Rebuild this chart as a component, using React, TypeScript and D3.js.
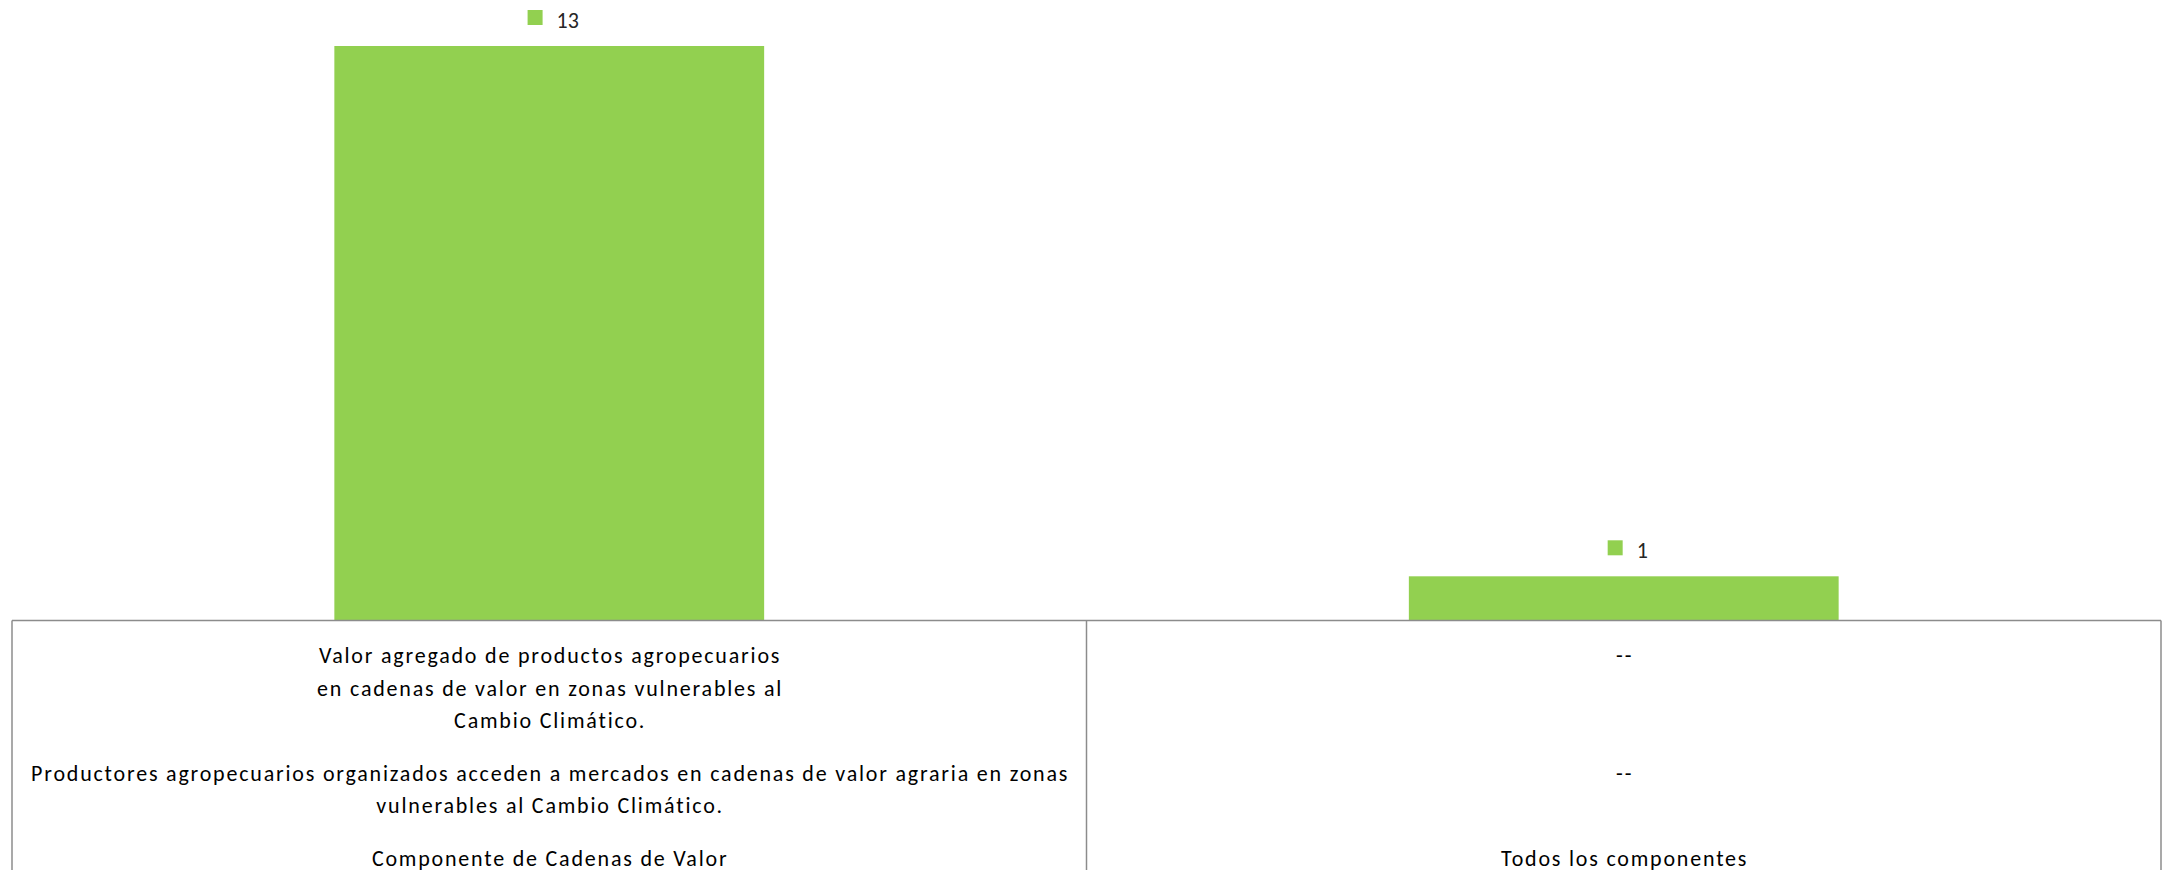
import React, { useRef, useEffect } from 'react';
import * as d3 from 'd3';

// categories (bottom row of the data table) and bar values
const categories = ['Componente de Cadenas de Valor', 'Todos los componentes'];
const values = [13, 1];

// data table rows above the category row, one entry per category (wrapped lines)
const indicatorRow = [
    ['Valor agregado de productos agropecuarios', 'en cadenas de valor en zonas vulnerables al', 'Cambio Climático.'],
    ['--'],
];
const resultRow = [
    ['Productores agropecuarios organizados acceden a mercados en cadenas de valor agraria en zonas', 'vulnerables al Cambio Climático.'],
    ['--'],
];

const WIDTH = 2163;
const HEIGHT = 870;
const GREEN = '#92d050';
const FONT = 'Carlito, Calibri, Lato, "Open Sans", sans-serif';

const App: React.FC = () => {
    const d3Container = useRef<SVGSVGElement>(null);

    useEffect(() => {
        document.body.style.margin = '0';
        document.body.style.overflow = 'hidden';
        if (!d3Container.current) return;

        const svg = d3.select(d3Container.current);
        svg.selectAll('*').remove();

        const left = 12;
        const right = 2161;
        const axisY = 620.5;

        const xScale = d3.scaleBand<string>()
            .domain(categories)
            .range([left, right])
            .paddingInner(0.6)
            .paddingOuter(0.3);

        const yScale = d3.scaleLinear()
            .domain([0, 13])
            .range([axisY, 46]);

        const step = xScale.step();
        const cellLeft = (i: number) => left + i * step;
        const center = (c: string) => xScale(c)! + xScale.bandwidth() / 2;

        // bars
        svg.append('g')
            .selectAll('rect')
            .data(categories)
            .enter()
            .append('rect')
            .attr('x', d => xScale(d)!)
            .attr('y', (d, i) => yScale(values[i]))
            .attr('width', xScale.bandwidth())
            .attr('height', (d, i) => axisY - yScale(values[i]))
            .attr('fill', GREEN);

        // data labels with legend key
        const labels = svg.append('g')
            .selectAll('g')
            .data(categories)
            .enter()
            .append('g');

        labels.append('text')
            .attr('y', (d, i) => yScale(values[i]) - 18)
            .attr('font-family', FONT)
            .attr('font-size', '22px')
            .attr('fill', '#262626')
            .text((d, i) => `${values[i]}`);

        labels.each(function (d) {
            const g = d3.select(this);
            const t = g.select<SVGTextElement>('text');
            const tw = t.node()!.getComputedTextLength();
            const total = 15 + 14 + tw;
            const x0 = center(d) + 4 - total / 2;
            const ty = +t.attr('y');
            g.insert('rect', 'text')
                .attr('x', x0)
                .attr('y', ty - 18)
                .attr('width', 15)
                .attr('height', 15)
                .attr('fill', GREEN);
            t.attr('x', x0 + 29);
        });

        // data table borders
        const table = svg.append('g')
            .attr('stroke', '#8c8c8c')
            .attr('stroke-width', 1.5)
            .attr('fill', 'none');

        table.append('line')
            .attr('x1', left).attr('x2', right)
            .attr('y1', axisY).attr('y2', axisY);

        d3.range(categories.length + 1).forEach(i => {
            table.append('line')
                .attr('x1', cellLeft(i)).attr('x2', cellLeft(i))
                .attr('y1', axisY).attr('y2', HEIGHT);
        });

        // data table text
        const rows = [indicatorRow, resultRow, categories.map(c => [c])];
        const lineH = 32.5;
        const rowPad = 20;
        let rowTop = axisY;
        const txt = svg.append('g')
            .attr('font-family', FONT)
            .attr('font-size', '22px')
            .attr('letter-spacing', '1.8px')
            .attr('fill', '#000')
            .attr('text-anchor', 'middle');

        rows.forEach(row => {
            const nLines = d3.max(row, r => r.length)!;
            row.forEach((lines, ci) => {
                lines.forEach((line, li) => {
                    txt.append('text')
                        .attr('x', center(categories[ci]) + 0.9)
                        .attr('y', rowTop + 42.5 + li * lineH)
                        .text(line);
                });
            });
            rowTop += nLines * lineH + rowPad;
        });
    }, []);

    return (
        <svg
            width={WIDTH}
            height={HEIGHT}
            ref={d3Container}
            style={{ display: 'block', background: '#fff' }}
        />
    );
};

export default App;
